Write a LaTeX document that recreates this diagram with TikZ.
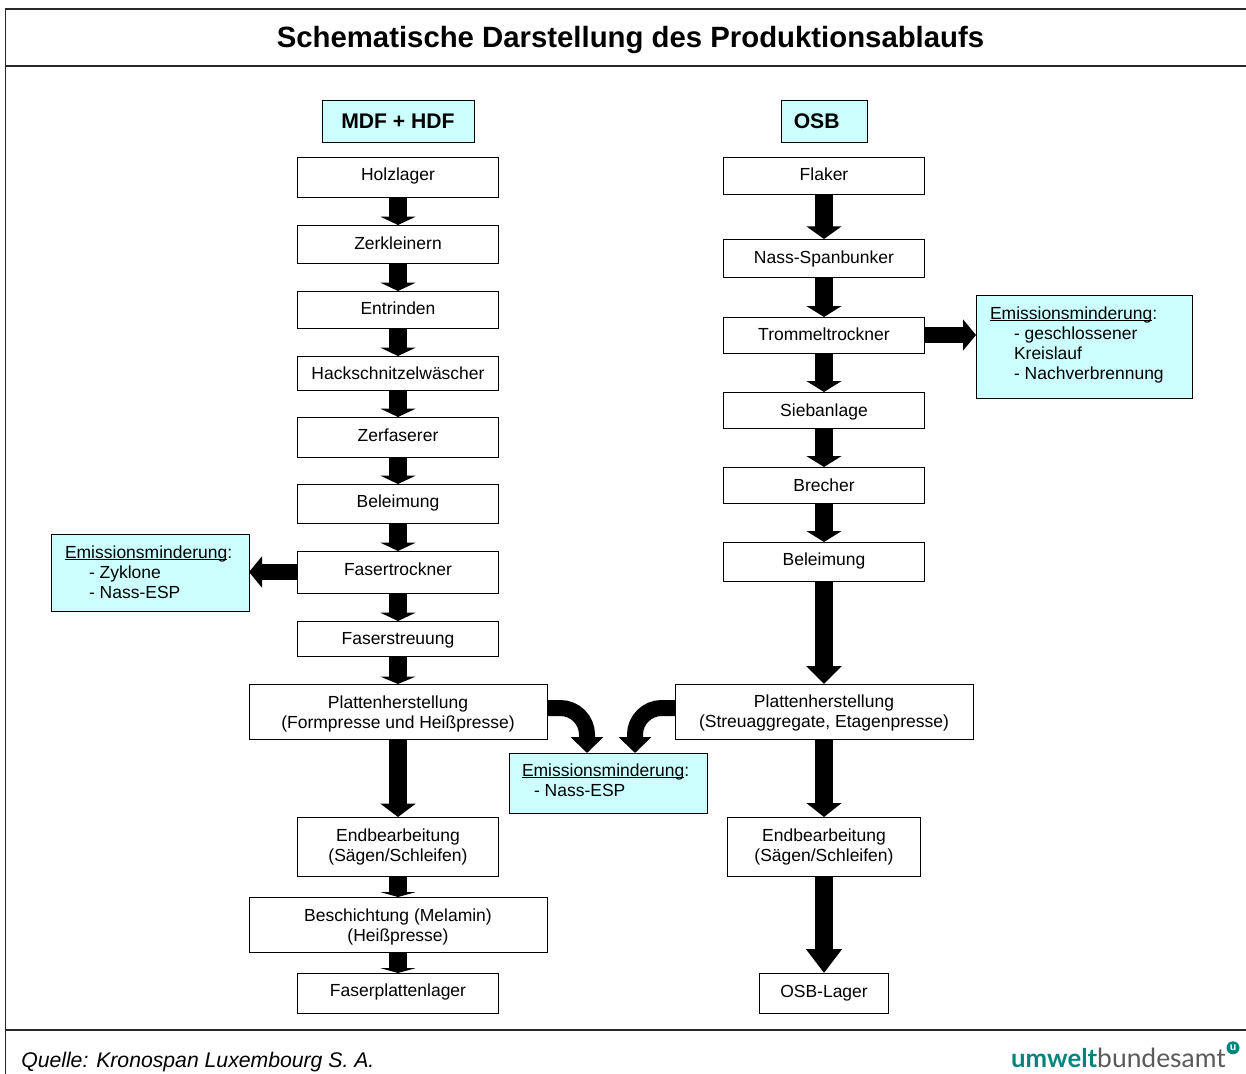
\documentclass[tikz,border=0pt]{standalone}
\usepackage{fontspec}
\setmainfont{Liberation Sans}
\newfontfamily\logofont{Lato}
\usetikzlibrary{arrows.meta,calc}
\definecolor{cyanbox}{RGB}{204,255,255}
\definecolor{logoteal}{RGB}{0,133,125}
\definecolor{logogrey}{RGB}{90,90,90}
\definecolor{rulegrey}{RGB}{40,40,40}
\tikzset{
  plainbox/.style={draw=black,line width=0.75pt,fill=white,inner sep=0pt,outer sep=0pt},
  cyanfill/.style={draw=black,line width=0.75pt,fill=cyanbox,inner sep=0pt,outer sep=0pt},
  flow/.style={line width=13.5pt,draw=black,-{Triangle[length=#1,width=26pt]}},
  flowside/.style={line width=11.75pt,draw=black,-{Triangle[length=9.75pt,width=23pt]}},
  flowcurve/.style={line width=12pt,draw=black,rounded corners=20pt,-{Triangle[length=12pt,width=24pt]}},
  rule/.style={draw=rulegrey,line width=0.9pt},
}
% [style] name x0 y0 x1 y1 baseline-of-first-line text
\newcommand{\bx}[8][plainbox]{%
  \pgfmathsetlengthmacro{\bw}{(#5-#3)*0.75pt}%
  \pgfmathsetlengthmacro{\bh}{(#6-#4)*0.75pt}%
  \pgfmathsetlengthmacro{\bp}{(#7-#4)*0.75pt-10pt}%
  \node[#1] (#2) at ({(#3+#5)/2},{(#4+#6)/2})
    {\parbox[c][\bh][t]{\bw}{\vspace*{\bp}\fontsize{13.12}{15}\selectfont\centering#8\par}};}
\newcommand{\strt}{\rule{0pt}{10pt}}
\newcommand{\emul}[1]{\setbox0\hbox{#1}\rlap{\rule[-1.7pt]{\wd0}{0.6pt}}\box0 }
% name x0 y0 x1 y1 baseline textindent text
\newcommand{\ebx}[8]{%
  \pgfmathsetlengthmacro{\bw}{(#4-#2)*0.75pt}%
  \pgfmathsetlengthmacro{\bh}{(#5-#3)*0.75pt}%
  \pgfmathsetlengthmacro{\bp}{(#6-#3)*0.75pt-10pt}%
  \pgfmathsetlengthmacro{\bi}{#7*0.75pt}%
  \node[cyanfill] (#1) at ({(#2+#4)/2},{(#3+#5)/2})
    {\parbox[c][\bh][t]{\bw}{\vspace*{\bp}\fontsize{13.12}{15}\selectfont\raggedright\leftskip=\bi\relax\parindent=0pt #8\par}};}
\begin{document}
\begin{tikzpicture}[x=0.75pt,y=-0.75pt]
\useasboundingbox (0,0) rectangle (1246,1074);
% frame
\draw[rule] (1246,9) -- (5.5,9) -- (5.5,1074);
\draw[rule] (5.5,66) -- (1246,66);
\draw[rule] (5.5,1030) -- (1246,1030);
\node[anchor=base,font=\bfseries\fontsize{22}{27}\selectfont] (title) at (630.5,48) {Schematische Darstellung des Produktionsablaufs};
% headers
\node[cyanfill,minimum width=114pt,minimum height=30.75pt,font=\bfseries\fontsize{15.85}{18}\selectfont] (hmdf) at (398,121.5) {MDF + HDF};
\node[cyanfill,minimum width=64.5pt,minimum height=30.75pt,font=\bfseries\fontsize{15.85}{18}\selectfont] (hosb) at (824,121.5) {OSB\hspace{11pt}\null};
% left column
\bx{l1}{297.5}{157}{498.5}{197}{180}{\strt Holzlager}
\bx{l2}{297.5}{225}{498.5}{263}{249}{\strt Zerkleinern}
\bx{l3}{297.5}{291}{498.5}{328}{314}{\strt Entrinden}
\bx{l4}{297.5}{356}{498.5}{390}{379}{\strt Hackschnitzelwäscher}
\bx{l5}{297.5}{417}{498.5}{457}{441}{\strt Zerfaserer}
\bx{l6}{297.5}{484}{498.5}{523}{507}{\strt Beleimung}
\bx{l7}{297.5}{551}{498.5}{593}{575}{\strt Fasertrockner}
\bx{l8}{297.5}{621}{498.5}{656}{644}{\strt Faserstreuung}
\bx{l9}{249}{684}{547}{739}{708}{\strt Plattenherstellung\\\strt(Formpresse und Heißpresse)}
\bx{l10}{297.5}{817}{498.5}{876}{841}{\strt Endbearbeitung\\\strt(Sägen/Schleifen)}
\bx{l11}{249}{897}{547}{952}{921}{\strt Beschichtung (Melamin)\\\strt(Heißpresse)}
\bx{l12}{297.5}{973}{498.5}{1013}{996}{\strt Faserplattenlager}
% right column
\bx{r1}{723.5}{157}{924.5}{194}{180}{\strt Flaker}
\bx{r2}{723.5}{239}{924.5}{277}{263}{\strt Nass-Spanbunker}
\bx{r3}{723.5}{317}{924.5}{353}{340}{\strt Trommeltrockner}
\bx{r4}{723.5}{392}{924.5}{428}{416}{\strt Siebanlage}
\bx{r5}{723.5}{467}{924.5}{503}{491}{\strt Brecher}
\bx{r6}{723.5}{542}{924.5}{581}{565}{\strt Beleimung}
\bx{r7}{675}{684}{973}{739}{707}{\strt Plattenherstellung\\\strt(Streuaggregate, Etagenpresse)}
\bx{r8}{727.5}{817}{920.5}{876}{841}{\strt Endbearbeitung\\\strt(Sägen/Schleifen)}
\bx{r9}{759.5}{973}{888.5}{1013}{997}{\strt OSB-Lager}
% emission boxes
\ebx{el}{51}{534}{249}{611}{558}{14}{\strt\emul{Emissionsminderung}:\par\strt\hspace*{18pt}- Zyklone\par\strt\hspace*{18pt}- Nass-ESP}
\ebx{em}{509}{753}{707}{813}{776}{13}{\strt\emul{Emissionsminderung}:\par\strt\hspace*{9pt}- Nass-ESP}
\ebx{er}{976}{295}{1192}{398}{319}{14}{\strt\emul{Emissionsminderung}:\par\strt\hspace*{18pt}- geschlossener\par\strt\hspace*{18pt}Kreislauf\par\strt\hspace*{18pt}- Nachverbrennung}
% arrows
\foreach \a/\b/\h in {l1/l2/6.2pt,l2/l3/6.2pt,l3/l4/6.2pt,l4/l5/6.2pt,l5/l6/6.2pt,l6/l7/6.2pt,l7/l8/6.2pt,l8/l9/5.5pt,l9/l10/10pt,l10/l11/3.6pt,l11/l12/3.6pt,r1/r2/9.5pt,r2/r3/8.2pt,r3/r4/8.2pt,r4/r5/8.2pt,r5/r6/8.2pt,r6/r7/13.5pt,r7/r8/10.5pt,r8/r9/18pt}
  \draw[flow=\h] (\a.south) -- (\b.north);
\draw[flowside] (l7.west) -- (l7.west -| el.east);
\draw[flowside] (r3.east) -- (r3.east -| er.west);
\coordinate (cl) at (587,708);
\coordinate (cr) at (635,708);
\draw[flowcurve] (l9.east |- cl) -- (cl) -- (cl |- em.north);
\draw[flowcurve] (r7.west |- cr) -- (cr) -- (cr |- em.north);
% footer
\node[anchor=base west,inner sep=0pt,font=\itshape\fontsize{15.9}{18}\selectfont] (src) at (21,1067) {Quelle: Kronospan Luxembourg S. A.};
\node[anchor=base east,inner sep=0pt] (logo) at (1226,1067) {{\logofont\bfseries\fontsize{19.3}{24}\selectfont\color{logoteal}umwelt}{\logofont\fontsize{19.8}{24}\selectfont\color{logogrey}bundesamt}};
\node[circle,fill=logoteal,inner sep=0pt,minimum size=9.75pt,text=white,font=\bfseries\fontsize{8}{8}\selectfont] (logou) at (1233,1047.8) {u};
\end{tikzpicture}
\end{document}
